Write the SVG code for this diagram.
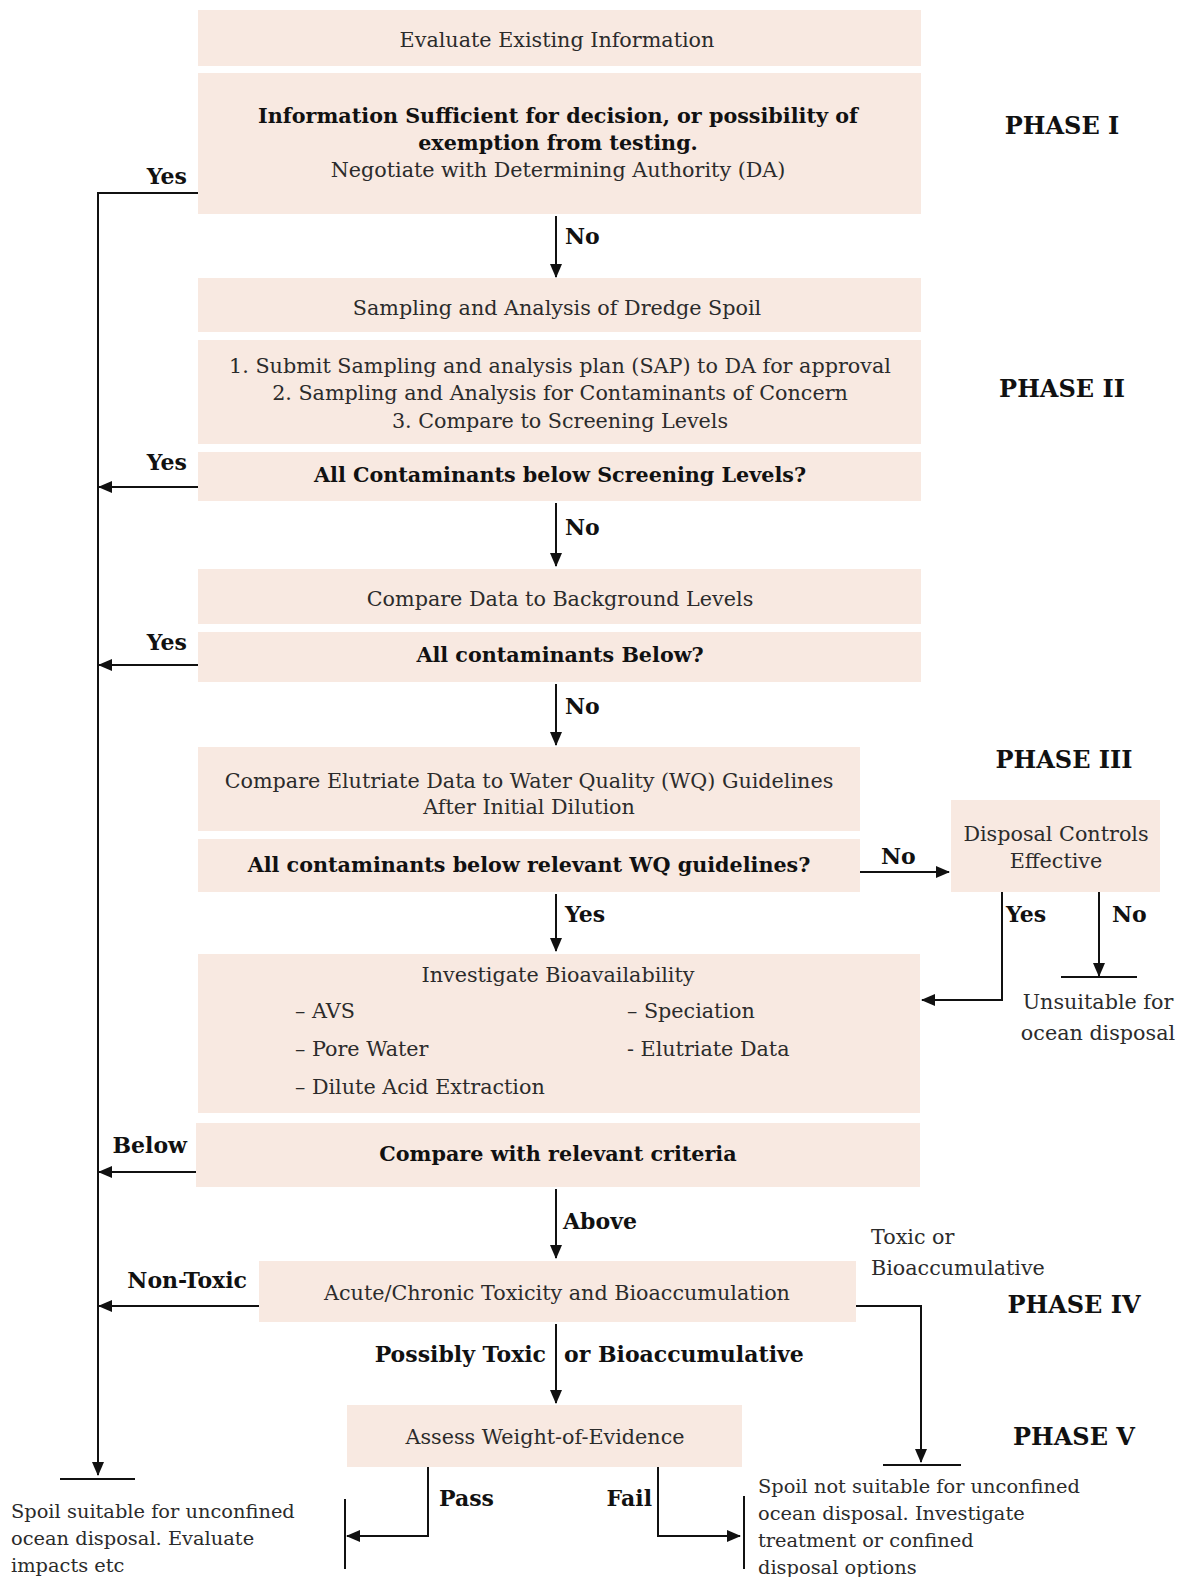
<svg xmlns="http://www.w3.org/2000/svg" width="1180" height="1577" viewBox="0 0 1180 1577">
<defs>
<marker id="ah" markerUnits="userSpaceOnUse" markerWidth="14" markerHeight="12" refX="13" refY="6" orient="auto">
<path d="M0,0 L14,6 L0,12 Z" fill="#111"/>
</marker>
<style>
.box{fill:#f8e9e1;}
.t{font-family:"DejaVu Serif","Liberation Serif",serif;font-size:20.7px;fill:#2b2b2b;}
.o{font-family:"DejaVu Serif","Liberation Serif",serif;font-size:19.4px;fill:#2b2b2b;}
.b{font-family:"DejaVu Serif","Liberation Serif",serif;font-size:20.7px;font-weight:bold;fill:#111;}
.lb{font-family:"DejaVu Serif","Liberation Serif",serif;font-size:22px;font-weight:bold;fill:#111;}
.ph{font-family:"DejaVu Serif","Liberation Serif",serif;font-size:24px;font-weight:bold;fill:#111;}
.c{text-anchor:middle;}
.e{text-anchor:end;}
.ln{fill:none;stroke:#111;stroke-width:2;}
.ar{fill:none;stroke:#111;stroke-width:2;marker-end:url(#ah);}
</style>
</defs>
<rect width="1180" height="1577" fill="#fff"/>

<g id="n1"><rect class="box" x="198" y="10" width="723" height="56"/><text class="t c" x="557" y="47">Evaluate Existing Information</text></g>
<g id="n2"><rect class="box" x="198" y="73" width="723" height="141"/>
<text class="b c" x="558" y="123">Information Sufficient for decision, or possibility of</text>
<text class="b c" x="558" y="150">exemption from testing.</text>
<text class="t c" x="558" y="177">Negotiate with Determining Authority (DA)</text></g>
<g id="n3"><rect class="box" x="198" y="278" width="723" height="54"/><text class="t c" x="557" y="315">Sampling and Analysis of Dredge Spoil</text></g>
<g id="n4"><rect class="box" x="198" y="340" width="723" height="104"/>
<text class="t c" x="560" y="373">1. Submit Sampling and analysis plan  (SAP) to DA for approval</text>
<text class="t c" x="560" y="400">2. Sampling and Analysis for Contaminants of Concern</text>
<text class="t c" x="560" y="428">3. Compare to Screening Levels</text></g>
<g id="n5"><rect class="box" x="198" y="452" width="723" height="49"/><text class="b c" x="560" y="482">All Contaminants below Screening Levels?</text></g>
<g id="n6"><rect class="box" x="198" y="569" width="723" height="55"/><text class="t c" x="560" y="606">Compare Data to Background Levels</text></g>
<g id="n7"><rect class="box" x="198" y="632" width="723" height="50"/><text class="b c" x="560" y="662">All contaminants Below?</text></g>
<g id="n8"><rect class="box" x="198" y="747" width="662" height="84"/>
<text class="t c" x="529" y="788">Compare Elutriate Data to Water Quality (WQ) Guidelines</text>
<text class="t c" x="529" y="814">After Initial Dilution</text></g>
<g id="n9"><rect class="box" x="198" y="839" width="662" height="53"/><text class="b c" x="529" y="872">All contaminants below relevant WQ guidelines?</text></g>
<g id="n10"><rect class="box" x="951" y="800" width="209" height="92"/>
<text class="t c" x="1056" y="841">Disposal Controls</text>
<text class="t c" x="1056" y="868">Effective</text></g>
<g id="n11"><rect class="box" x="198" y="954" width="722" height="159"/>
<text class="t c" x="558" y="982">Investigate Bioavailability</text>
<text class="t" x="295" y="1018">– AVS</text>
<text class="t" x="295" y="1056">– Pore Water</text>
<text class="t" x="295" y="1094">– Dilute Acid Extraction</text>
<text class="t" x="627" y="1018">– Speciation</text>
<text class="t" x="627" y="1056">- Elutriate Data</text></g>
<g id="n12"><rect class="box" x="196" y="1123" width="724" height="64"/><text class="b c" x="558" y="1161">Compare with relevant criteria</text></g>
<g id="n13"><rect class="box" x="259" y="1261" width="597" height="61"/><text class="t c" x="557" y="1300">Acute/Chronic Toxicity and Bioaccumulation</text></g>
<g id="n14"><rect class="box" x="347" y="1405" width="395" height="62"/><text class="t c" x="545" y="1444">Assess Weight-of-Evidence</text></g>

<g id="phases">
<text class="ph c" x="1062" y="134">PHASE I</text>
<text class="ph c" x="1062" y="397">PHASE II</text>
<text class="ph c" x="1064" y="768">PHASE III</text>
<text class="ph c" x="1074" y="1313">PHASE IV</text>
<text class="ph c" x="1074" y="1445">PHASE V</text>
</g>

<g id="outcomes">
<text class="t c" x="1098" y="1009">Unsuitable for</text>
<text class="t c" x="1098" y="1040">ocean disposal</text>
<text class="o" x="11" y="1518">Spoil suitable for unconfined</text>
<text class="o" x="11" y="1545">ocean disposal. Evaluate</text>
<text class="o" x="11" y="1572">impacts etc</text>
<text class="o" x="758" y="1493">Spoil not suitable for unconfined</text>
<text class="o" x="758" y="1520">ocean disposal. Investigate</text>
<text class="o" x="758" y="1547">treatment or confined</text>
<text class="o" x="758" y="1574">disposal options</text>
</g>

<g id="connectors">
<path class="ar" d="M198,193 H98 V1475"/>
<line class="ln" x1="60" y1="1479" x2="135" y2="1479"/>
<path class="ar" d="M198,487 H99"/>
<path class="ar" d="M198,665 H99"/>
<path class="ar" d="M196,1172 H99"/>
<path class="ar" d="M259,1306 H99"/>
<path class="ar" d="M556,216 V277"/>
<path class="ar" d="M556,503 V566"/>
<path class="ar" d="M556,684 V745"/>
<path class="ar" d="M556,894 V951"/>
<path class="ar" d="M556,1189 V1258"/>
<path class="ar" d="M556,1324 V1403"/>
<path class="ar" d="M860,872 H949"/>
<path class="ar" d="M1002,892 V1000 H922"/>
<path class="ar" d="M1099,892 V976"/>
<line class="ln" x1="1061" y1="977" x2="1137" y2="977"/>
<path class="ar" d="M856,1306 H921 V1462"/>
<line class="ln" x1="883" y1="1465" x2="961" y2="1465"/>
<path class="ar" d="M428,1467 V1536 H347"/>
<line class="ln" x1="345" y1="1499" x2="345" y2="1569"/>
<path class="ar" d="M658,1467 V1536 H740"/>
<line class="ln" x1="744" y1="1496" x2="744" y2="1569"/>
</g>

<g id="labels">
<text class="lb e" x="187" y="184">Yes</text>
<text class="lb e" x="187" y="470">Yes</text>
<text class="lb e" x="187" y="650">Yes</text>
<text class="lb e" x="187" y="1153">Below</text>
<text class="lb e" x="247" y="1288">Non-Toxic</text>
<text class="lb" x="565" y="244">No</text>
<text class="lb" x="565" y="535">No</text>
<text class="lb" x="565" y="714">No</text>
<text class="lb" x="565" y="922">Yes</text>
<text class="lb" x="563" y="1229">Above</text>
<text class="lb e" x="546" y="1362">Possibly Toxic</text>
<text class="lb" x="564" y="1362">or Bioaccumulative</text>
<text class="lb" x="881" y="864">No</text>
<text class="lb" x="1006" y="922">Yes</text>
<text class="lb" x="1112" y="922">No</text>
<text class="t" x="871" y="1244">Toxic or</text>
<text class="t" x="871" y="1275">Bioaccumulative</text>
<text class="lb" x="439" y="1506">Pass</text>
<text class="lb e" x="652" y="1506">Fail</text>
</g>
</svg>
